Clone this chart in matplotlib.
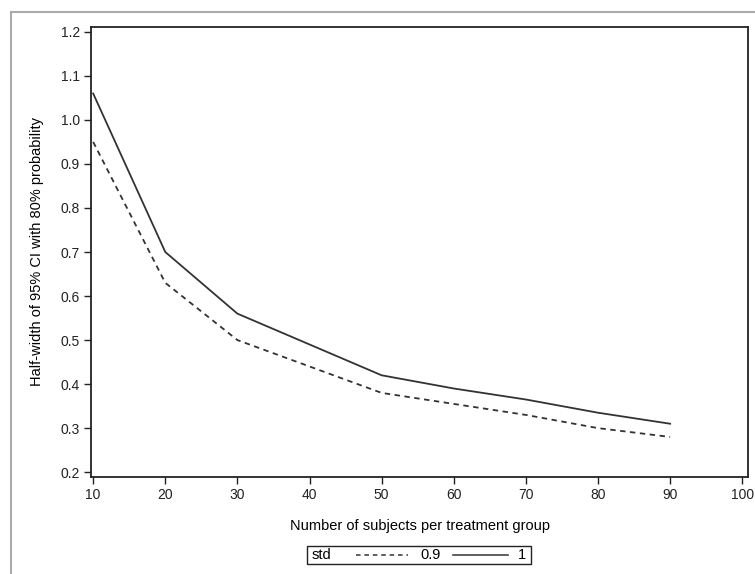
import matplotlib.pyplot as plt
from matplotlib.lines import Line2D
from matplotlib.patches import Rectangle

plt.rcParams['font.family'] = ['Liberation Sans Narrow', 'Liberation Sans', 'DejaVu Sans']

# sample size per group
n = [10, 20, 30, 40, 50, 60, 70, 80, 90]
# half-width for std = 0.9 and std = 1
hw_09 = [0.95, 0.63, 0.50, 0.44, 0.38, 0.355, 0.33, 0.30, 0.28]
hw_10 = [1.06, 0.70, 0.56, 0.49, 0.42, 0.39, 0.365, 0.335, 0.31]

xticks = [10, 20, 30, 40, 50, 60, 70, 80, 90, 100]
yticks = [0.2, 0.3, 0.4, 0.5, 0.6, 0.7, 0.8, 0.9, 1.0, 1.1, 1.2]

W, H = 755, 574
fig = plt.figure(figsize=(W / 100, H / 100), dpi=100)
ax = fig.add_axes([91 / W, 1 - 477 / H, (748 - 91) / W, (477 - 27) / H])

ax.plot(n, hw_09, color='#333333', lw=1.3, linestyle=(0, (3, 2.5)))
ax.plot(n, hw_10, color='#333333', lw=1.3)

ax.set_xlim(9.7, 100.8)
ax.set_ylim(0.189, 1.211)
ax.set_xticks(xticks)
ax.set_yticks(yticks)
ax.set_yticklabels(['%.1f' % v for v in yticks])
ax.tick_params(direction='out', length=5, width=1, labelsize=10, colors='#222222', pad=3)
for s in ax.spines.values():
    s.set_linewidth(1.3)
    s.set_color('#222222')

ax.set_xlabel('Number of subjects per treatment group', fontsize=10.5, labelpad=12)
ax.set_ylabel('Half-width of 95% CI with 80% probability', fontsize=10.5, labelpad=12)

# outer grey frame
fig.patches.append(Rectangle((10.5 / W, -0.5), 1.5, (1 - 12 / H) + 0.5, transform=fig.transFigure,
                             fill=False, edgecolor='#aaaaaa', lw=1.5))

# legend box drawn by hand
def fx(px):
    return px / W

def fy(py):
    return 1 - py / H

fig.patches.append(Rectangle((fx(307), fy(564)), fx(531) - fx(307), fy(546) - fy(564),
                             transform=fig.transFigure, fill=False, edgecolor='#222222', lw=1))
ly = fy(555)
fig.text(fx(312), ly, 'std', fontsize=10.5, va='center', ha='left')
fig.add_artist(Line2D([fx(356), fx(408)], [ly, ly], color='#333333', lw=1.1,
                      linestyle=(0, (3, 2.5)), transform=fig.transFigure))
fig.text(fx(420), ly, '0.9', fontsize=10.5, va='center', ha='left')
fig.add_artist(Line2D([fx(453), fx(508)], [ly, ly], color='#333333', lw=1.1,
                      transform=fig.transFigure))
fig.text(fx(518), ly, '1', fontsize=10.5, va='center', ha='left')

fig.savefig('out.png', dpi=100)
